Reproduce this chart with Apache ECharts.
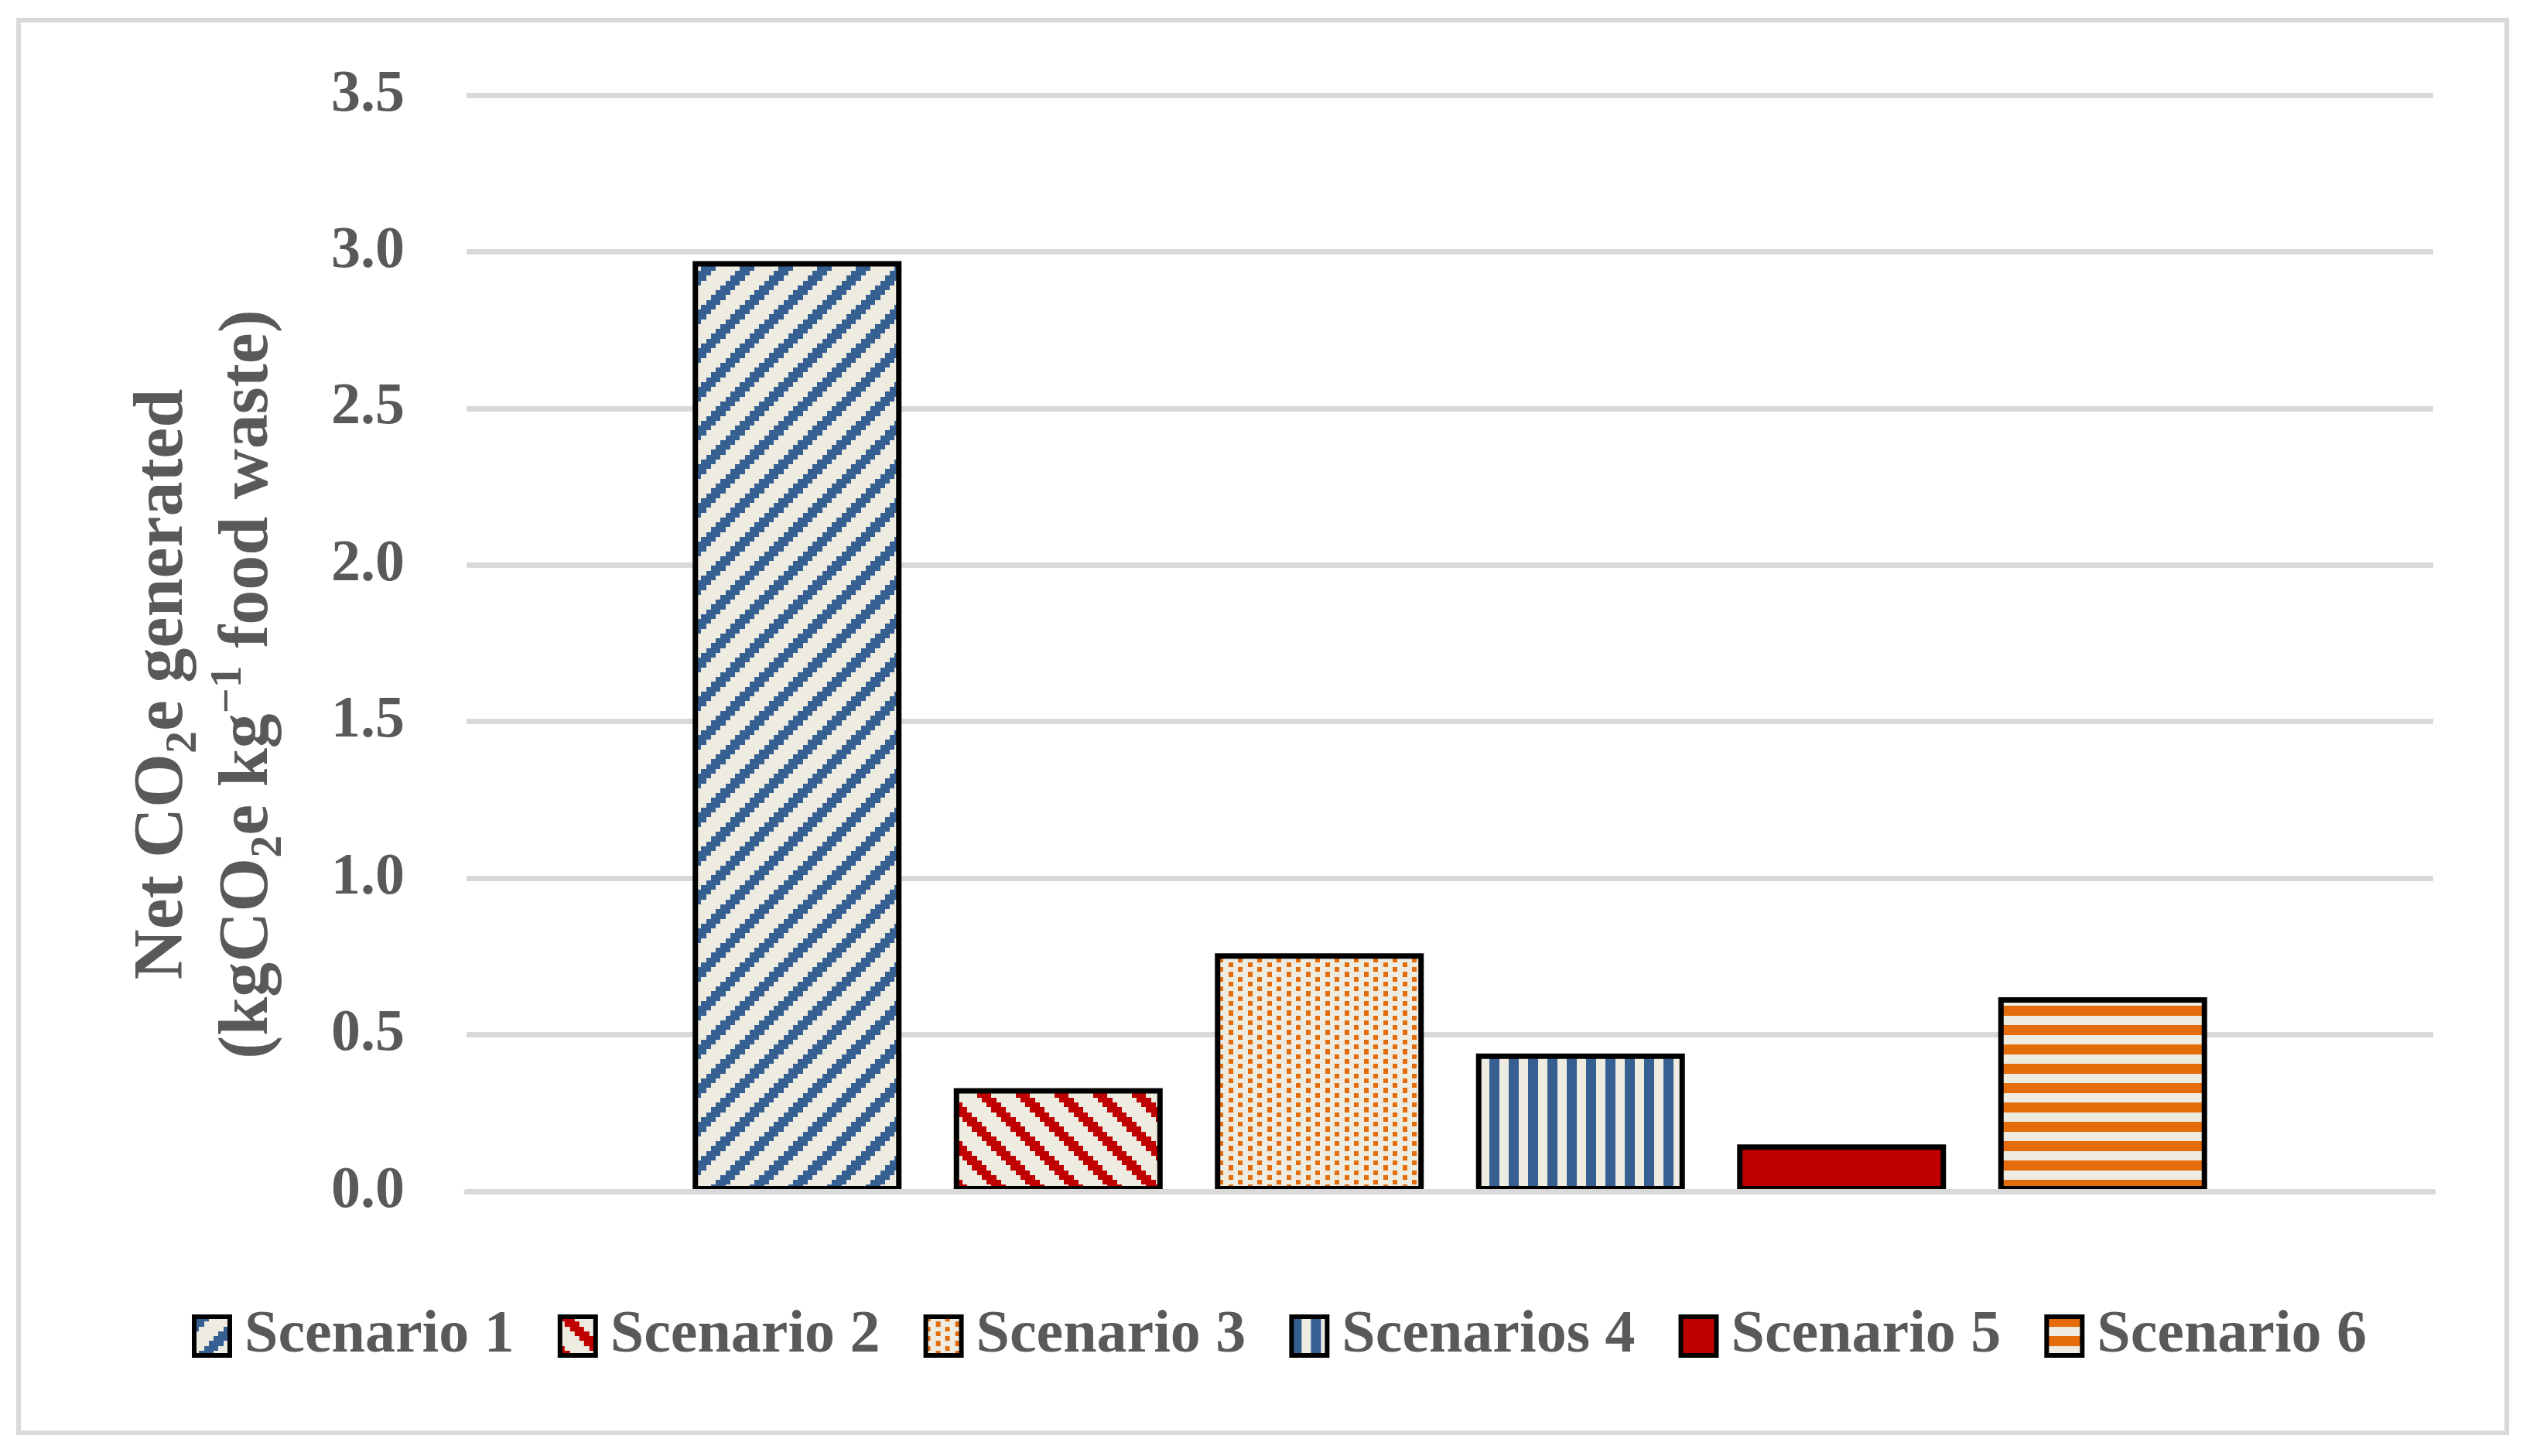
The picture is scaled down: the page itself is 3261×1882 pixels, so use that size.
<!DOCTYPE html>
<html>
<head>
<meta charset="utf-8">
<script src="https://cdn.jsdelivr.net/npm/echarts@6/dist/echarts.min.js"></script>
<style>html,body{margin:0;padding:0;background:#fff}#c{width:3261px;height:1882px}</style>
</head>
<body>
<div id="c"></div>
<script>
// ---- data ----
const scenarios = ['Scenario 1', 'Scenario 2', 'Scenario 3', 'Scenarios 4', 'Scenario 5', 'Scenario 6'];
const netCO2e = [2.97, 0.33, 0.76, 0.44, 0.15, 0.62];
const yMin = 0, yMax = 3.5, yStep = 0.5;

// ---- patterns ----
const BLUE = '#376092', RED = '#C00000', ORANGE = '#E46C0A', CREAM = '#EEECE1';
function makePattern(fg, bg, fn) {
  const size = 50, n = 8, cell = size / n;
  const cv = document.createElement('canvas');
  cv.width = size; cv.height = size;
  const ctx = cv.getContext('2d');
  ctx.fillStyle = bg; ctx.fillRect(0, 0, size, size);
  ctx.fillStyle = fg;
  for (let r = 0; r < n; r++) {
    for (let c = 0; c < n; c++) {
      if (fn(c, r)) {
        const x0 = Math.round(c * cell), x1 = Math.round((c + 1) * cell);
        const y0 = Math.round(r * cell), y1 = Math.round((r + 1) * cell);
        ctx.fillRect(x0, y0, x1 - x0, y1 - y0);
      }
    }
  }
  return { image: cv, repeat: 'repeat' };
}
const fills = [
  makePattern(BLUE, CREAM, (c, r) => ((c + r) % 8) < 3),
  makePattern(RED, CREAM, (c, r) => ((c - r + 16) % 8) < 3),
  makePattern(ORANGE, CREAM, (c, r) => (r % 2 === 0 && c % 4 === 0) || (r % 2 === 1 && c % 4 === 2)),
  makePattern(BLUE, CREAM, (c, r) => (c % 4) < 2),
  RED,
  makePattern(ORANGE, CREAM, (c, r) => (r % 4) < 2)
];

const FONT = 'Liberation Serif';
const GREY = '#595959';
const chart = echarts.init(document.getElementById('c'));
chart.setOption({
  animation: false,
  backgroundColor: '#ffffff',
  textStyle: { fontFamily: FONT },
  graphic: [{
    type: 'rect', silent: true, z: -10,
    shape: { x: 24, y: 26, width: 3216, height: 1826 },
    style: { fill: 'none', stroke: '#d9d9d9', lineWidth: 6 }
  }],
  grid: { left: 603, right: 116, top: 123, bottom: 342, containLabel: false },
  legend: {
    top: 1683, left: 243,
    icon: 'rect', itemWidth: 46, itemHeight: 50, itemGap: 56,
    itemStyle: { borderColor: '#000', borderWidth: 6 },
    textStyle: { fontSize: 78, fontWeight: 'bold', color: GREY, fontFamily: FONT, padding: [0, 0, 0, 14] }
  },
  xAxis: {
    type: 'category', data: [''], z: 10,
    axisLine: { show: true, lineStyle: { color: '#d9d9d9', width: 7 } },
    axisTick: { show: false }, axisLabel: { show: false }, splitLine: { show: false }
  },
  yAxis: {
    type: 'value', min: yMin, max: yMax, interval: yStep,
    axisLine: { show: false }, axisTick: { show: false },
    splitLine: { lineStyle: { color: '#d9d9d9', width: 7 } },
    axisLabel: { formatter: v => v.toFixed(1), fontSize: 76, fontWeight: 'bold', color: GREY, fontFamily: FONT, margin: 80 },
    name: '{a|Net CO}{s|2}{a|e generated}\n{a|(kgCO}{s|2}{a|e kg}{p|\u22121}{a| food waste)}',
    nameLocation: 'middle', nameRotate: 90, nameGap: 226,
    nameTextStyle: {
      fontSize: 90, fontWeight: 'bold', color: GREY, fontFamily: FONT, lineHeight: 110,
      padding: [0, 106, 0, 0],
      rich: {
        a: { fontSize: 90, fontWeight: 'bold', color: GREY, fontFamily: FONT, lineHeight: 110 },
        s: { fontSize: 58, fontWeight: 'bold', color: GREY, fontFamily: FONT, lineHeight: 64, verticalAlign: 'bottom' },
        p: { fontSize: 58, fontWeight: 'bold', color: GREY, fontFamily: FONT, lineHeight: 66, verticalAlign: 'top' }
      }
    }
  },
  series: scenarios.map((name, i) => ({
    type: 'bar', name: name, data: [netCO2e[i]],
    barWidth: 270, barGap: '25%',
    itemStyle: { color: fills[i], borderColor: '#000', borderWidth: 7 }
  }))
});
</script>
</body>
</html>
